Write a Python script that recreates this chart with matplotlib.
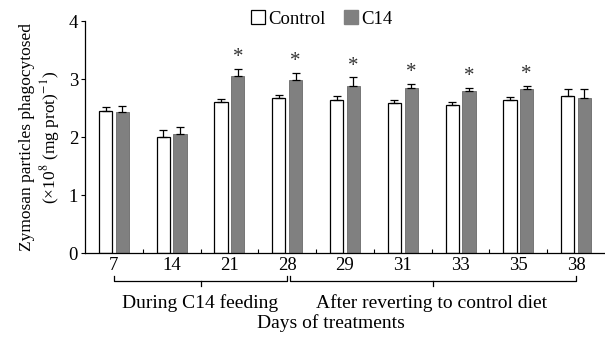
import numpy as np
import matplotlib
matplotlib.use('Agg')
import matplotlib.pyplot as plt
from matplotlib.patches import Patch

plt.rcParams['font.family'] = ['Liberation Serif', 'DejaVu Serif']
plt.rcParams['mathtext.fontset'] = 'stix'

days = ['7', '14', '21', '28', '29', '31', '33', '35', '38']
control = [2.45, 2.00, 2.61, 2.67, 2.64, 2.59, 2.55, 2.64, 2.71]
control_err = [0.07, 0.12, 0.04, 0.06, 0.07, 0.04, 0.06, 0.05, 0.12]
c14 = [2.43, 2.05, 3.05, 2.98, 2.88, 2.84, 2.80, 2.82, 2.68]
c14_err = [0.10, 0.12, 0.12, 0.13, 0.15, 0.07, 0.05, 0.06, 0.14]
significant = [False, False, True, True, True, True, True, True, False]

fig = plt.figure(figsize=(6.05, 3.38), dpi=100)
ax = fig.add_axes([85 / 605, 1 - 253 / 338, 520 / 605, 232 / 338])

x = np.arange(len(days))
w = 0.23
off = 0.145
gray = '#808080'

ax.bar(x - off, control, w, color='white', edgecolor='black', linewidth=0.9)
ax.bar(x + off, c14, w, color=gray, edgecolor='#6a6a6a', linewidth=0.6)
ax.errorbar(x - off, control, yerr=[np.zeros(len(x)), control_err], fmt='none',
            ecolor='black', elinewidth=0.9, capsize=3, capthick=0.9)
ax.errorbar(x + off, c14, yerr=[np.zeros(len(x)), c14_err], fmt='none',
            ecolor='black', elinewidth=0.9, capsize=3, capthick=0.9)

for i in range(len(x)):
    if significant[i]:
        ax.text(x[i] + off, c14[i] + c14_err[i] + 0.03, '*', ha='center', va='bottom',
                fontsize=15, color='#333333')

ax.set_xlim(-0.5, len(days) - 0.5)
ax.set_ylim(0, 4)
ax.set_yticks([0, 1, 2, 3, 4])
ax.set_xticks(x)
ax.set_xticklabels(days, fontsize=13.5)
ax.tick_params(axis='x', length=0, pad=3)
ax.set_xticks(x[:-1] + 0.5, minor=True)
ax.tick_params(axis='x', which='minor', direction='in', length=3, width=0.8)
ax.tick_params(axis='y', labelsize=13.5, length=3, width=0.8, pad=2)
ax.spines['top'].set_visible(False)
ax.spines['right'].set_visible(False)
for s in ['left', 'bottom']:
    ax.spines[s].set_linewidth(0.9)

ax.set_ylabel('Zymosan particles phagocytosed\n(×10$^{8}$ (mg prot)$^{-1}$)',
              fontsize=12.5, linespacing=1.15, labelpad=5)

# brackets under the day labels
trans = ax.get_xaxis_transform()
for a, b in [(0, 3), (3.05, 8)]:
    m = (a + b) / 2
    ax.plot([a, a, b, b], [-0.1, -0.12, -0.12, -0.1], color='black', lw=0.9,
            transform=trans, clip_on=False)
    ax.plot([m, m], [-0.12, -0.142], color='black', lw=0.9, transform=trans, clip_on=False)

ax.text(1.5, -0.215, 'During C14 feeding', transform=trans, ha='center', va='center',
        fontsize=14)
ax.text(5.5, -0.215, 'After reverting to control diet', transform=trans, ha='center',
        va='center', fontsize=14)
ax.text(3.75, -0.3, 'Days of treatments', transform=trans, ha='center', va='center',
        fontsize=14)

handles = [Patch(facecolor='white', edgecolor='black', linewidth=0.9, label='Control'),
           Patch(facecolor=gray, edgecolor=gray, label='C14')]
fig.legend(handles=handles, loc='center', bbox_to_anchor=(322 / 605, 1 - 19 / 338),
           ncol=2, frameon=False, fontsize=13.5, handlelength=0.7, handleheight=0.7,
           handletextpad=0.2, columnspacing=1.0)

fig.savefig('out.png', dpi=100)
